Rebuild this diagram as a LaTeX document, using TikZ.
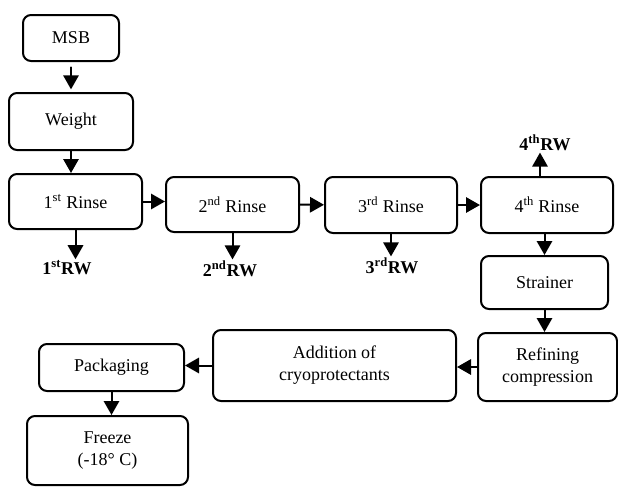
\documentclass[tikz,border=0pt]{standalone}
\usepackage{fontspec}
\setmainfont{Liberation Serif}
\usetikzlibrary{arrows.meta}

\begin{document}
\begin{tikzpicture}[line cap=round,line join=round,>={Triangle[length=10.5pt,width=11.5pt]},x=0.75pt,y=-0.75pt,
  box/.style={draw,line width=1.5pt,rounded corners=6pt,align=center,inner sep=0pt,
    font=\fontsize{13.5}{16.5}\selectfont},
  flow/.style={->,line width=1.5pt},
  rwlabel/.style={inner sep=1pt,font=\fontsize{13.5}{16.5}\selectfont\bfseries}]

\useasboundingbox (0,0) rectangle (618,486);
%% main line
\node [box,minimum width=72pt,minimum height=34.5pt] (msb) at (71,38) {MSB};
\node [box,minimum width=93pt,minimum height=42.75pt] (weight) at (71,121.5) {Weight};
\node [box,minimum width=99.75pt,minimum height=41.25pt] (rinse1) at (75.5,201.5) {1\textsuperscript{st} Rinse};
\node [box,minimum width=99.75pt,minimum height=41.25pt] (rinse2) at (232.5,204.5) {2\textsuperscript{nd} Rinse};
\node [box,minimum width=99pt,minimum height=42pt] (rinse3) at (391,205) {3\textsuperscript{rd} Rinse};
\node [box,minimum width=99pt,minimum height=42pt] (rinse4) at (547,205) {4\textsuperscript{th} Rinse};
\node [box,minimum width=95.25pt,minimum height=39.75pt] (strainer) at (544.5,282.5) {Strainer};
\node [box,minimum width=104.25pt,minimum height=51pt] (refining) at (547.5,367) {Refining\\compression};
\node [box,minimum width=182.25pt,minimum height=53.25pt] (addition) at (334.5,365.5) {Addition of\\cryoprotectants};
\node [box,minimum width=108.75pt,minimum height=35.25pt] (packaging) at (111.5,367.5) {Packaging};
\node [box,minimum width=120.75pt,minimum height=51.75pt] (freeze) at (107.5,450.5) {Freeze\\(-18° C)};
%% rinse water
\node [rwlabel] (rw1) at (67,268) {1\textsuperscript{st}RW};
\node [rwlabel] (rw2) at (230,269) {2\textsuperscript{nd}RW};
\node [rwlabel] (rw3) at (392,266) {3\textsuperscript{rd}RW};
\node [rwlabel] (rw4) at (545,143) {4\textsuperscript{th}RW};
\coordinate (up4) at ([xshift=-3.75pt]rw4.south);
%%%
\draw [flow,shorten <=4pt,shorten >=2pt] (msb) -- (weight);
\draw [flow] (weight.south) -- (weight.south |- rinse1.north);
\draw [flow] (rinse1.east) -- (rinse1.east -| rinse2.west);
\draw [flow] (rinse2) -- (rinse3);
\draw [flow] (rinse3) -- (rinse4);
%%
\draw [flow] (rinse1.south) -- (rinse1.south |- rw1.north);
\draw [flow] (rinse2.south) -- (rinse2.south |- rw2.north);
\draw [flow] (rinse3.south) -- (rinse3.south |- rw3.north);
\draw [flow] (rinse4.north -| up4) -- (up4);
%%
\draw [flow] (rinse4.south -| strainer.north) -- (strainer.north);
\draw [flow] (strainer) -- (strainer.south |- refining.north);
\draw [flow] (refining.west) -- (refining.west -| addition.east);
\draw [flow] (addition.west) -- (addition.west -| packaging.east);
\draw [flow] (packaging.south) -- (packaging.south |- freeze.north);
%%
\end{tikzpicture}
\end{document}
